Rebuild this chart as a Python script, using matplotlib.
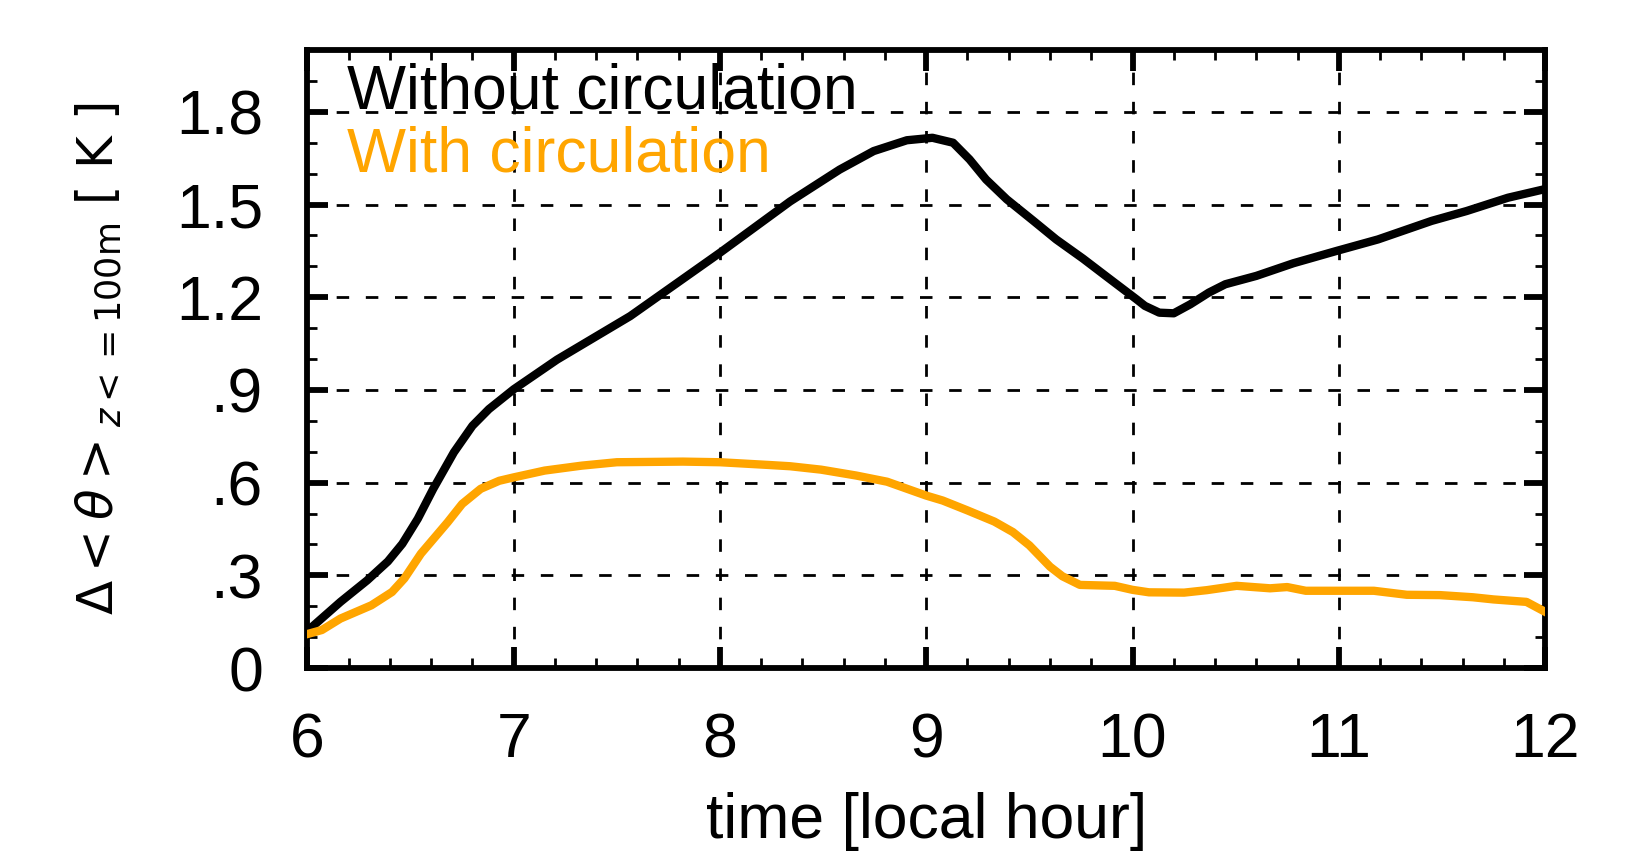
import numpy as np
import matplotlib
matplotlib.use("Agg")
import matplotlib.pyplot as plt
from matplotlib.ticker import MultipleLocator, FixedLocator

plt.rcParams["font.family"] = ["Liberation Sans", "DejaVu Sans"]
plt.rcParams["mathtext.fontset"] = "dejavusans"

# 无环流 (黑线)
t_without = [6.0, 6.16, 6.29, 6.39, 6.46, 6.535, 6.61, 6.71, 6.8, 6.88, 7.0,
             7.21, 7.565, 8.0, 8.34, 8.58, 8.745, 8.906, 9.03, 9.13, 9.21,
             9.29, 9.39, 9.52, 9.63, 9.76, 9.87, 10.02, 10.06, 10.13, 10.2,
             10.28, 10.37, 10.45, 10.6, 10.78, 10.99, 11.19, 11.45, 11.62,
             11.82, 12.0]
dtheta_without = [0.12, 0.214, 0.284, 0.345, 0.402, 0.483, 0.58, 0.698, 0.784,
                  0.838, 0.902, 0.998, 1.139, 1.344, 1.51, 1.613, 1.673, 1.708,
                  1.716, 1.70, 1.646, 1.581, 1.517, 1.447, 1.387, 1.325, 1.269,
                  1.193, 1.172, 1.150, 1.148, 1.177, 1.215, 1.242, 1.269, 1.310,
                  1.35, 1.387, 1.447, 1.479, 1.522, 1.55]

# 有环流 (橙线)
t_with = [6.0, 6.07, 6.16, 6.31, 6.41, 6.47, 6.55, 6.68, 6.75, 6.84, 6.93, 7.0,
          7.15, 7.33, 7.5, 7.82, 8.0, 8.24, 8.34, 8.49, 8.66, 8.81, 9.0, 9.08,
          9.2, 9.33, 9.42, 9.5, 9.6, 9.66, 9.745, 9.914, 10.0, 10.08, 10.25,
          10.36, 10.505, 10.667, 10.75, 10.84, 11.17, 11.33, 11.49, 11.65,
          11.75, 11.91, 12.0]
dtheta_with = [0.11, 0.123, 0.16, 0.203, 0.246, 0.29, 0.37, 0.472, 0.531, 0.58,
               0.606, 0.617, 0.639, 0.655, 0.666, 0.668, 0.666, 0.657, 0.653,
               0.642, 0.623, 0.603, 0.558, 0.542, 0.51, 0.474, 0.44, 0.397,
               0.328, 0.297, 0.269, 0.266, 0.253, 0.245, 0.244, 0.252, 0.266,
               0.258, 0.262, 0.25, 0.25, 0.237, 0.236, 0.229, 0.222, 0.214,
               0.182]

xticks = [6, 7, 8, 9, 10, 11, 12]
yticks = [0, 0.3, 0.6, 0.9, 1.2, 1.5, 1.8]
ytick_labels = ["0", ".3", ".6", ".9", "1.2", "1.5", "1.8"]

ORANGE = "#FFA500"

fig = plt.figure(figsize=(16.31, 8.67), dpi=100)
ax = fig.add_axes([0.1885, 0.2295, 0.9473 - 0.1885, 0.9423 - 0.2295])

ax.plot(t_without, dtheta_without, color="black", lw=6, solid_joinstyle="round", zorder=3)
ax.plot(t_with, dtheta_with, color=ORANGE, lw=6, solid_joinstyle="round", zorder=3)

ax.set_xlim(6, 12); ax.set_ylim(0, 2.0)
ax.xaxis.set_major_locator(FixedLocator(xticks))
ax.xaxis.set_minor_locator(MultipleLocator(0.2))
ax.yaxis.set_major_locator(FixedLocator(yticks))
ax.yaxis.set_minor_locator(MultipleLocator(0.1))
ax.set_yticklabels(ytick_labels)

ax.grid(True, which="major", color="black", lw=2.0, linestyle=(0, (4.5, 6)), zorder=1)
for s in ax.spines.values():
    s.set_linewidth(4.2)
ax.tick_params(which="both", direction="in", top=True, right=True, colors="black")
ax.tick_params(which="major", length=15, width=4.2, labelsize=45)
ax.tick_params(which="minor", length=7, width=2.0)
ax.tick_params(axis="x", which="major", pad=31)
ax.tick_params(axis="y", which="major", pad=32)

ax.set_xlabel("time [local hour]", fontsize=45, labelpad=16)
ax.set_ylabel(r"$\Delta<\theta>_{z<=100\mathrm{m}}\ [\ \mathrm{K}\ ]$", fontsize=36,
              family=["DejaVu Sans"])
ax.yaxis.set_label_coords(-0.148, 0.5)

ax.text(0.0317, 0.906, "Without circulation", transform=ax.transAxes, fontsize=45,
        color="black", va="baseline", ha="left", zorder=4)
ax.text(0.0317, 0.803, "With circulation", transform=ax.transAxes, fontsize=45,
        color=ORANGE, va="baseline", ha="left", zorder=4)

fig.savefig("out.png", dpi=100)
